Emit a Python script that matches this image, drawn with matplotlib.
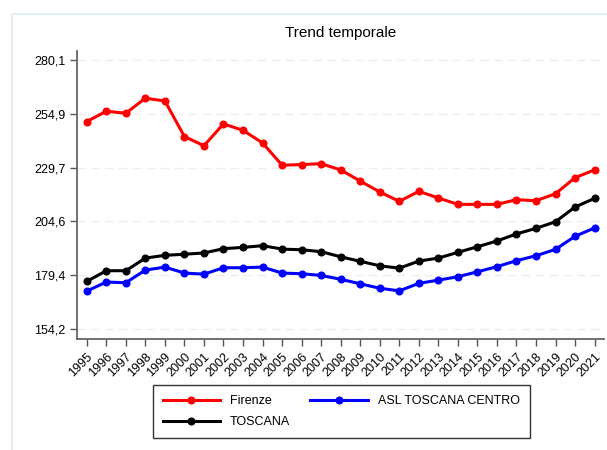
import matplotlib.pyplot as plt
from matplotlib.patches import Rectangle

# --- DATA ---
years = list(range(1995, 2022))
firenze = [251.3, 256.1, 255.2, 262.2, 260.9, 244.3, 240.0, 250.2, 247.2, 241.3,
           230.9, 231.2, 231.6, 228.7, 223.5, 218.4, 214.0, 218.7, 215.6, 212.6,
           212.6, 212.6, 214.8, 214.3, 217.6, 225.1, 228.7]
asl_centro = [172.1, 176.3, 176.0, 181.9, 183.3, 180.5, 180.0, 183.0, 183.0, 183.3,
              180.5, 180.2, 179.4, 177.6, 175.5, 173.4, 172.2, 175.7, 177.2, 178.8,
              181.1, 183.5, 186.3, 188.6, 191.6, 197.7, 201.6]
toscana = [176.6, 181.6, 181.6, 187.5, 188.8, 189.3, 189.9, 191.9, 192.5, 193.3,
           191.7, 191.4, 190.5, 188.1, 186.0, 183.9, 182.8, 186.1, 187.5, 190.2,
           192.8, 195.5, 198.8, 201.4, 204.5, 211.4, 215.4]
yticks = [154.2, 179.4, 204.6, 229.7, 254.9, 280.1]
ytick_labels = ["154,2", "179,4", "204,6", "229,7", "254,9", "280,1"]

plt.rcParams['font.family'] = ['Liberation Sans', 'DejaVu Sans']

fig = plt.figure(figsize=(6.07, 4.5), dpi=100)
ax = fig.add_axes([77 / 607, 111 / 450, 527 / 607, 288.3 / 450])

# faint outer frame
fig.patches.append(Rectangle((12 / 607, -0.1), 1.2, 1.1 - 14 / 450,
                             transform=fig.transFigure, fill=False,
                             edgecolor="#e6edf3", linewidth=1.5))

lw, ms = 2.2, 4.8
ax.plot(years, firenze, color="red", marker="o", lw=lw, ms=ms, label="Firenze", zorder=3)
ax.plot(years, toscana, color="black", marker="o", lw=lw, ms=ms, label="TOSCANA", zorder=3)
ax.plot(years, asl_centro, color="blue", marker="o", lw=lw, ms=ms, label="ASL TOSCANA CENTRO", zorder=3)

ax.set_xlim(1994.5, 2021.48)
ax.set_ylim(149.7, 284.4)
ax.set_xticks(years)
ax.set_xticklabels([str(y) for y in years], rotation=45, ha="right",
                   rotation_mode="anchor", fontsize=9)
ax.set_yticks(yticks)
ax.set_yticklabels(ytick_labels, fontsize=9)
ax.tick_params(length=5, color="#555555", width=1)
ax.grid(axis="y", color="#eeeeee", linestyle=(0, (6, 4)), linewidth=1)
ax.set_axisbelow(True)

for s in ["top", "right"]:
    ax.spines[s].set_visible(False)
for s in ["left", "bottom"]:
    ax.spines[s].set_color("#666666")
    ax.spines[s].set_linewidth(1.3)

ax.set_title("Trend temporale", fontsize=11, pad=10)

leg = fig.legend(loc="upper left", bbox_to_anchor=(152.7 / 607, 1 - 385.3 / 450),
                 ncol=2, fontsize=9, handlelength=4.6, handletextpad=0.8,
                 columnspacing=1.6, labelspacing=0.7, borderpad=0.8,
                 borderaxespad=0, fancybox=False, framealpha=1,
                 edgecolor="#333333")
leg.get_frame().set_linewidth(1)

fig.savefig("out.png", dpi=100)
